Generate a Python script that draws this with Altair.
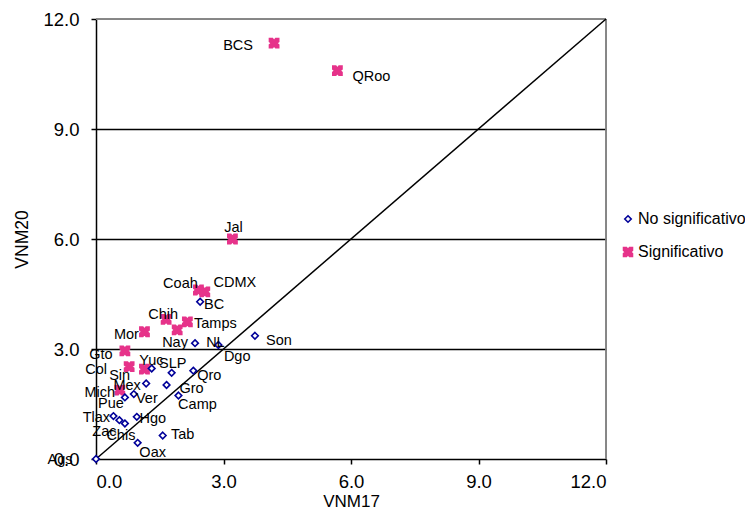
import altair as alt
import pandas as pd

# ---- data ----
estados = ["BCS", "QRoo", "Jal", "Coah", "CDMX", "Chih", "Tamps", "Dgo", "Mor", "Gto",
           "Col", "Yuc", "Mich",
           "BC", "Nay", "NL", "Son", "SLP", "Sin", "Qro", "Mex", "Gro", "Ver", "Pue",
           "Camp", "Hgo", "Tlax", "Zac", "Chis", "Tab", "Oax", "Ags"]
vnm17 = [4.19, 5.68, 3.21, 2.41, 2.56, 1.65, 2.15, 1.91, 1.14, 0.68,
         0.78, 1.14, 0.56,
         2.45, 2.33, 2.88, 3.74, 1.31, 1.78, 2.29, 1.18, 1.66, 0.89, 0.68,
         1.94, 0.96, 0.41, 0.55, 0.68, 1.57, 0.98, 0.00]
vnm20 = [11.34, 10.59, 6.00, 4.61, 4.56, 3.81, 3.74, 3.52, 3.47, 2.95,
         2.52, 2.45, 1.88,
         4.29, 3.16, 3.11, 3.36, 2.47, 2.35, 2.41, 2.06, 2.02, 1.77, 1.68,
         1.73, 1.15, 1.17, 1.06, 0.97, 0.64, 0.44, 0.00]
grupo = ["Significativo"] * 13 + ["No significativo"] * 19

# label offsets in pixels (style of the data labels)
lab_dx = [-36, 34, 1, -18, 30, -3, 28, 60, -18, -24,
          -33, 7, -20,
          14, -20, -3, 24, 21, -52, 16, -19, 25, 13, -14,
          19, 16, -17, -15, -4, 20, 15, -36]
lab_dy = [3, 6, -11, -6, -9, -4, 2, 27, 3, 4,
          3, -8, 3,
          3, 0, -2, 5, -4, 3, 5, 3, 4, 5, 7,
          9, 2, 2, 12, 13, -1, 10, 1]

diag = [0, 12]

W, H = 510, 440
df = pd.DataFrame({"estado": estados, "VNM17": vnm17, "VNM20": vnm20, "grupo": grupo,
                   "dx": lab_dx, "dy": lab_dy})
df["lx"] = df["VNM17"] + df["dx"] * 12.0 / W
df["ly"] = df["VNM20"] - df["dy"] * 12.0 / H
dd = pd.DataFrame({"a": diag, "b": diag})

PINK = "#E6338A"
NAVY = "#000099"
FONT = "Liberation Sans"
xpath = ("M -1 -1 L -0.35 -1 L 0 -0.55 L 0.35 -1 L 1 -1 L 1 -0.35 L 0.55 0 L 1 0.35 "
         "L 1 1 L 0.35 1 L 0 0.55 L -0.35 1 L -1 1 L -1 0.35 L -0.55 0 L -1 -0.35 Z")
dpath = "M 0 -0.72 L 0.72 0 L 0 0.72 L -0.72 0 Z"

xs = alt.Scale(domain=[0, 12], nice=False, zero=True)
ys = alt.Scale(domain=[0, 12], nice=False, zero=True)

xaxis = alt.Axis(title="VNM17", values=[0, 3, 6, 9, 12], format=".1f", grid=False,
                 domainColor="black", domainWidth=1.5, tickColor="black", tickWidth=1.5,
                 tickSize=5, labelFontSize=18.5, labelFont=FONT, labelColor="black",
                 labelPadding=8, titleFont=FONT, titleFontSize=17, titleFontWeight="normal",
                 titleColor="black", titlePadding=3)
yaxis = alt.Axis(title="VNM20", values=[0, 3, 6, 9, 12], format=".1f", grid=True,
                 gridColor={"condition": {"test": "datum.value == 0 || datum.value == 12",
                                          "value": "transparent"}, "value": "black"},
                 gridWidth=1.5, gridOpacity=1,
                 domainColor="black", domainWidth=1.5, tickColor="black", tickWidth=1.5,
                 tickSize=5, labelFontSize=18.5, labelFont=FONT, labelColor="black",
                 labelPadding=12, titleFont=FONT, titleFontSize=17.5, titleFontWeight="normal",
                 titleColor="black", titlePadding=11)

line = alt.Chart(dd).mark_line(color="black", strokeWidth=1.5).encode(
    x=alt.X("a:Q", scale=xs, axis=xaxis),
    y=alt.Y("b:Q", scale=ys, axis=yaxis),
)

dom = ["No significativo", "Significativo"]
leg = alt.Legend(title=None, orient="none", legendX=524, legendY=192, labelFont=FONT,
                 labelFontSize=16, labelColor="black", rowPadding=17, symbolSize=80,
                 labelOffset=2, symbolStrokeWidth=1.6)
pts = alt.Chart(df).mark_point(filled=False, size=85, strokeWidth=1.6, opacity=1).encode(
    x=alt.X("VNM17:Q", scale=xs),
    y=alt.Y("VNM20:Q", scale=ys),
    shape=alt.Shape("grupo:N", scale=alt.Scale(domain=dom, range=[dpath, xpath]), legend=leg),
    stroke=alt.Stroke("grupo:N", scale=alt.Scale(domain=dom, range=[NAVY, PINK]), legend=leg),
    fill=alt.Fill("grupo:N", scale=alt.Scale(domain=dom, range=["white", PINK]), legend=leg),
)

labels = alt.Chart(df).mark_text(font=FONT, fontSize=14.5, color="black",
                                 align="center", baseline="middle").encode(
    x=alt.X("lx:Q", scale=xs),
    y=alt.Y("ly:Q", scale=ys),
    text="estado:N",
)

# gray frame on top and right
frame = alt.Chart(dd).mark_rule(color="#808080", strokeWidth=1.5).encode(
    x=alt.value(0), x2=alt.value(W), y=alt.value(0)
)
frame2 = alt.Chart(dd).mark_rule(color="#808080", strokeWidth=1.5).encode(
    x=alt.value(W), y=alt.value(0), y2=alt.value(H)
)

chart = alt.layer(frame, frame2, line, pts, labels).properties(
    width=W, height=H,
    autosize=alt.AutoSizeParams(type="none"),
    padding={"left": 88, "top": 11, "right": 139, "bottom": 51},
).configure_view(stroke=None).configure(background="white")

chart.save("out.html", embed_options={"renderer": "svg", "actions": False})
